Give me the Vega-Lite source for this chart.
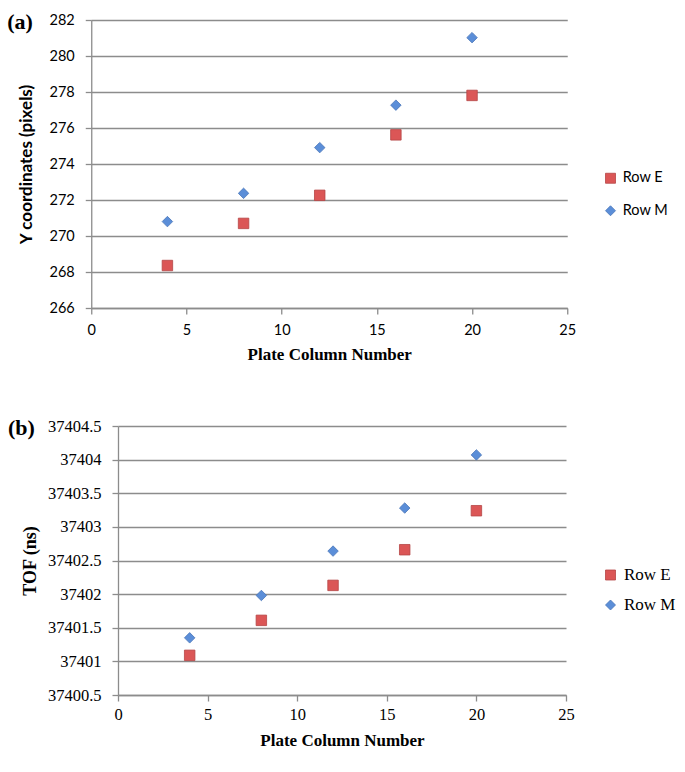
{
  "$schema": "https://vega.github.io/schema/vega-lite/v6.json",
  "padding": {"left": 7, "top": 10, "right": 0, "bottom": 0},
  "background": "white",
  "spacing": 54,
  "center": true,
  "resolve": {
    "scale": {"color": "independent", "shape": "independent", "stroke": "independent"},
    "legend": {"color": "independent", "shape": "independent", "stroke": "independent"}
  },
  "config": {"view": {"stroke": null}},
  "datasets": {
    "ycoord": [
      {"column": 4, "series": "Row E", "value": 268.36},
      {"column": 8, "series": "Row E", "value": 270.7},
      {"column": 12, "series": "Row E", "value": 272.26},
      {"column": 16, "series": "Row E", "value": 275.62},
      {"column": 20, "series": "Row E", "value": 277.81},
      {"column": 4, "series": "Row M", "value": 270.8},
      {"column": 8, "series": "Row M", "value": 272.37},
      {"column": 12, "series": "Row M", "value": 274.91},
      {"column": 16, "series": "Row M", "value": 277.27},
      {"column": 20, "series": "Row M", "value": 281.02}
    ],
    "tof": [
      {"column": 4, "series": "Row E", "value": 37401.09},
      {"column": 8, "series": "Row E", "value": 37401.61},
      {"column": 12, "series": "Row E", "value": 37402.13},
      {"column": 16, "series": "Row E", "value": 37402.66},
      {"column": 20, "series": "Row E", "value": 37403.24},
      {"column": 4, "series": "Row M", "value": 37401.35},
      {"column": 8, "series": "Row M", "value": 37401.98},
      {"column": 12, "series": "Row M", "value": 37402.64},
      {"column": 16, "series": "Row M", "value": 37403.28},
      {"column": 20, "series": "Row M", "value": 37404.07}
    ]
  },
  "vconcat": [
    {
      "width": 476,
      "height": 288,
      "title": {"text": "(a)", "anchor": "start", "frame": "group", "orient": "top", "offset": 0, "dx": -84, "dy": 31.5, "baseline": "middle", "font": "Liberation Serif", "fontSize": 22, "fontWeight": "bold", "color": "black"},
      "data": {"name": "ycoord"},
      "mark": {"type": "point", "filled": true, "size": 110, "strokeWidth": 0.8, "opacity": 1},
      "encoding": {
        "x": {
          "field": "column", "type": "quantitative",
          "scale": {"domain": [0, 25]},
          "axis": {"title": "Plate Column Number", "titleFont": "Liberation Serif", "titleFontSize": 17, "titleFontWeight": "bold", "titleColor": "black", "titlePadding": 10,
                   "values": [0, 5, 10, 15, 20, 25], "labelFont": "Lato", "labelFontSize": 14.5, "labelColor": "black", "labelPadding": 9, "labelFlush": false,
                   "tickSize": 6, "tickColor": "#8c8c8c", "tickWidth": 1.3, "domainColor": "#8c8c8c", "domainWidth": 1.3, "grid": false}
        },
        "y": {
          "field": "value", "type": "quantitative",
          "scale": {"domain": [266, 282], "zero": false},
          "axis": {"title": "Y coordinates (pixels)", "titleFont": "Lato", "titleFontSize": 17, "titleFontWeight": "bold", "titleColor": "black", "titlePadding": 14,
                   "values": [266, 268, 270, 272, 274, 276, 278, 280, 282], "labelFont": "Lato", "labelFontSize": 14.5, "labelColor": "black", "labelPadding": 11,
                   "tickSize": 6, "tickColor": "#8c8c8c", "tickWidth": 1.3, "domainColor": "#8c8c8c", "domainWidth": 1.3,
                   "grid": true, "gridColor": "#8c8c8c", "gridWidth": 1.3}
        },
        "color": {
          "field": "series", "type": "nominal",
          "scale": {"domain": ["Row E", "Row M"], "range": ["#DB5656", "#5B8ED8"]},
          "legend": {"title": null, "orient": "none", "legendX": 478, "legendY": 117, "labelFont": "Lato", "labelFontSize": 14.5, "labelColor": "black",
                     "symbolSize": 100, "rowPadding": 17.5, "labelOffset": 5, "padding": 34, "strokeColor": "transparent", "symbolStrokeWidth": 0.8}
        },
        "shape": {"field": "series", "type": "nominal", "scale": {"domain": ["Row E", "Row M"], "range": ["square", "diamond"]}},
        "stroke": {"field": "series", "type": "nominal", "scale": {"domain": ["Row E", "Row M"], "range": ["#B54545", "#4A76B8"]}}
      }
    },
    {
      "width": 448,
      "height": 269,
      "title": {"text": "(b)", "anchor": "start", "frame": "group", "orient": "top", "offset": 0, "dx": -110, "dy": 32, "baseline": "middle", "font": "Liberation Serif", "fontSize": 22, "fontWeight": "bold", "color": "black"},
      "data": {"name": "tof"},
      "mark": {"type": "point", "filled": true, "size": 110, "strokeWidth": 0.8, "opacity": 1},
      "encoding": {
        "x": {
          "field": "column", "type": "quantitative",
          "scale": {"domain": [0, 25]},
          "axis": {"title": "Plate Column Number", "titleFont": "Liberation Serif", "titleFontSize": 17, "titleFontWeight": "bold", "titleColor": "black", "titlePadding": 9,
                   "values": [0, 5, 10, 15, 20, 25], "labelFont": "Liberation Serif", "labelFontSize": 16.5, "labelColor": "black", "labelPadding": 5.5, "labelFlush": false,
                   "tickSize": 6, "tickColor": "#8c8c8c", "tickWidth": 1.3, "domainColor": "#8c8c8c", "domainWidth": 1.3, "grid": false}
        },
        "y": {
          "field": "value", "type": "quantitative",
          "scale": {"domain": [37400.5, 37404.5], "zero": false},
          "axis": {"title": "TOF (ns)", "titleFont": "Liberation Serif", "titleFontSize": 18, "titleFontWeight": "bold", "titleColor": "black", "titlePadding": 8,
                   "values": [37400.5, 37401, 37401.5, 37402, 37402.5, 37403, 37403.5, 37404, 37404.5], "format": ".6~r",
                   "labelFont": "Liberation Serif", "labelFontSize": 16.5, "labelColor": "black", "labelPadding": 11,
                   "tickSize": 6, "tickColor": "#8c8c8c", "tickWidth": 1.3, "domainColor": "#8c8c8c", "domainWidth": 1.3,
                   "grid": true, "gridColor": "#8c8c8c", "gridWidth": 1.3}
        },
        "color": {
          "field": "series", "type": "nominal",
          "scale": {"domain": ["Row E", "Row M"], "range": ["#DB5656", "#5B8ED8"]},
          "legend": {"title": null, "orient": "none", "legendX": 484, "legendY": 140.5, "labelFont": "Liberation Serif", "labelFontSize": 17, "labelColor": "black",
                     "symbolSize": 100, "rowPadding": 12, "labelOffset": 5, "padding": 0, "symbolStrokeWidth": 0.8}
        },
        "shape": {"field": "series", "type": "nominal", "scale": {"domain": ["Row E", "Row M"], "range": ["square", "diamond"]}},
        "stroke": {"field": "series", "type": "nominal", "scale": {"domain": ["Row E", "Row M"], "range": ["#B54545", "#4A76B8"]}}
      }
    }
  ]
}
